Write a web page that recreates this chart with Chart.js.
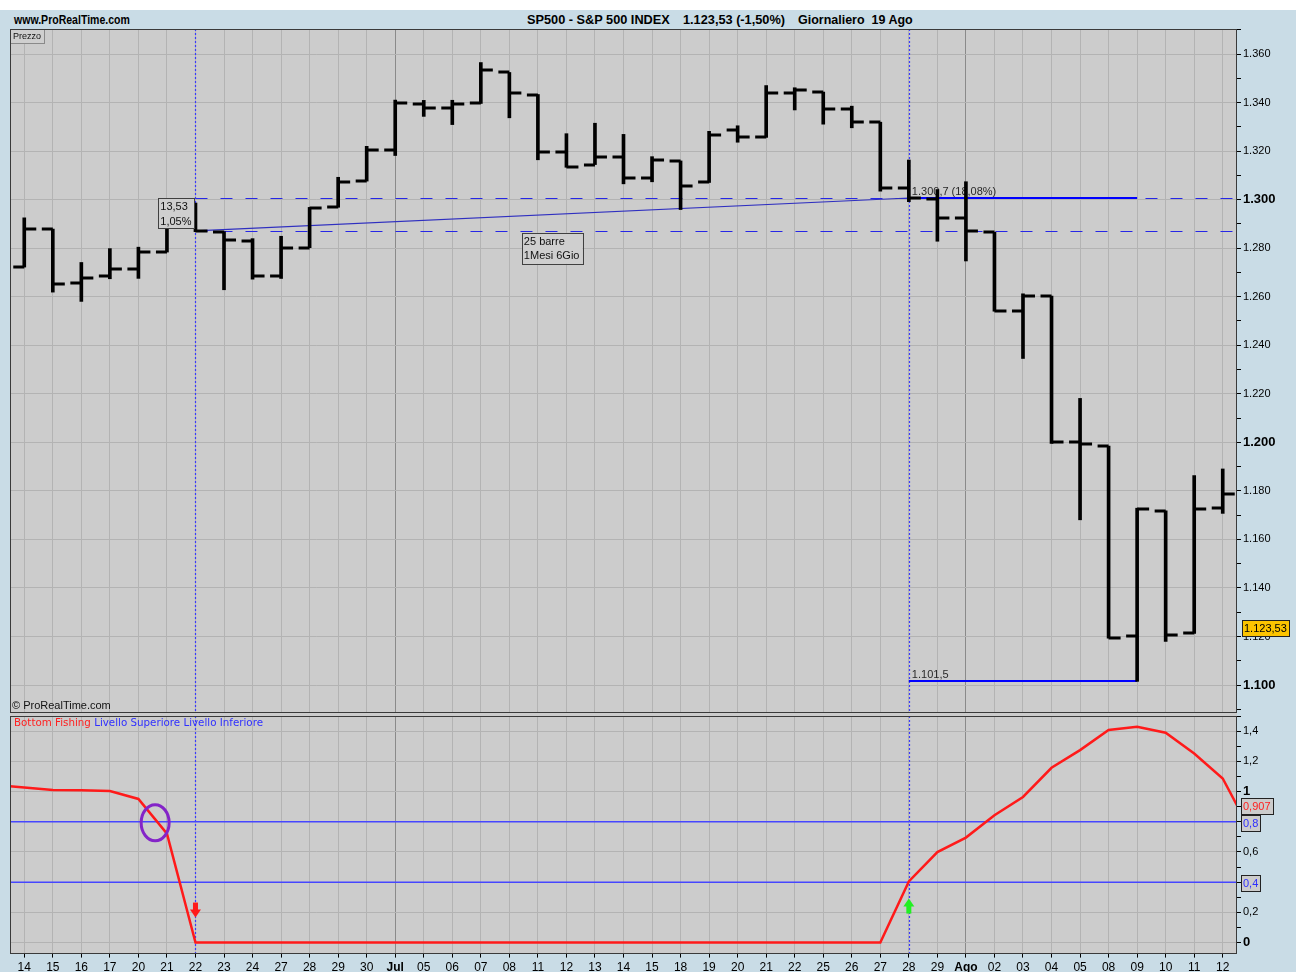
<!DOCTYPE html>
<html lang="it">
<head>
<meta charset="utf-8">
<title>SP500 - S&amp;P 500 INDEX</title>
<script src="https://cdn.jsdelivr.net/npm/chart.js@4.4.1/dist/chart.umd.min.js"></script>
<style>
  html, body { margin: 0; padding: 0; background: #fff; }
  body { position: relative; width: 1296px; height: 972px; overflow: hidden; }
  #frame { position: absolute; left: 0; top: 10px; right: 0; bottom: 0; background: #c9dce6; }
  #gap { position: absolute; left: 10px; top: 713px; width: 1227px; height: 3px; background: #cccccc; }
  .head { position: absolute; top: 11px; font-family: "Liberation Sans", Arial, sans-serif;
          font-weight: bold; font-size: 13px; line-height: 17px; color: #000; white-space: pre;
          transform-origin: 0 0; }
  #brand { left: 14px; transform: scaleX(0.81); }
  #cap1 { left: 527px; transform: scaleX(0.98); }
  #cap2 { left: 683px; transform: scaleX(0.98); }
  #cap3 { left: 798px; transform: scaleX(0.96); }
  .wrap { position: absolute; left: 0; width: 1296px; }
  #priceWrap { top: 0; height: 730px; }
  #bfWrap { top: 706px; height: 272px; }
</style>
</head>
<body>
<div id="frame"></div>
<div id="gap"></div>
<div id="brand" class="head">www.ProRealTime.com</div>
<div id="cap1" class="head">SP500 - S&amp;P 500 INDEX</div>
<div id="cap2" class="head">1.123,53 (-1,50%)</div>
<div id="cap3" class="head">Giornaliero  19 Ago</div>
<div id="priceWrap" class="wrap"><canvas id="priceChart"></canvas></div>
<div id="bfWrap" class="wrap"><canvas id="bfChart"></canvas></div>
<script>
// daily bars 14 Jun - 12 Aug
const dates = ['14','15','16','17','20','21','22','23','24','27','28','29','30',
  'Jul','05','06','07','08','11','12','13','14','15','18','19','20','21','22','25','26','27','28','29',
  'Ago','02','03','04','05','08','09','10','11','12'];

const opens = [1272.22,1287.87,1265.53,1268.58,1271.50,1278.40,1295.48,1286.60,1283.04,1268.44,1280.21,1296.85,1307.64,
  1320.64,1339.59,1337.56,1339.62,1352.39,1343.31,1319.61,1314.45,1317.74,1308.87,1315.94,1307.07,1328.66,1325.65,1343.80,1344.32,1337.39,1331.91,1304.84,1300.12,
  1292.59,1286.56,1254.25,1260.23,1200.28,1198.48,1120.23,1171.77,1121.30,1172.87];
const highs = [1292.50,1287.87,1274.11,1279.82,1280.42,1297.62,1298.61,1286.79,1283.93,1284.91,1296.80,1309.21,1321.97,
  1341.01,1340.89,1340.94,1356.48,1352.39,1343.31,1327.17,1331.48,1326.88,1317.70,1315.94,1328.14,1330.43,1347.00,1346.10,1344.32,1338.51,1331.91,1316.32,1304.16,
  1307.38,1286.58,1261.20,1260.23,1218.11,1198.48,1172.88,1171.77,1186.29,1189.04];
const lows = [1272.22,1261.90,1258.07,1267.40,1267.56,1278.40,1286.79,1262.87,1267.24,1267.53,1280.21,1296.85,1307.64,
  1318.18,1334.30,1330.92,1339.62,1333.71,1316.42,1313.33,1314.45,1306.51,1307.35,1295.92,1307.07,1323.65,1325.65,1336.95,1331.09,1329.59,1303.49,1299.16,1282.86,
  1274.73,1254.03,1234.56,1199.54,1168.09,1119.28,1101.54,1118.01,1121.30,1170.74];
const closes = [1287.87,1265.42,1267.64,1271.50,1278.36,1295.52,1287.14,1283.50,1268.45,1280.10,1296.67,1307.41,1320.64,
  1339.67,1337.88,1339.22,1353.22,1343.80,1319.49,1313.64,1317.72,1308.87,1316.14,1305.44,1326.73,1325.84,1343.80,1345.02,1337.43,1331.94,1304.89,1300.67,1292.28,
  1286.94,1254.05,1260.34,1200.07,1199.38,1119.46,1172.53,1120.76,1172.64,1178.81];

// Bottom Fishing oscillator, one value per bar, plus the bars just outside the window
const bottomFishing = [1.027,1.010,1.009,1.003,0.951,0.721,
  0,0,0,0,0,0,0,0,0,0,0,0,0,0,0,0,0,0,0,0,0,0,0,0,0,
  0.405,0.599,0.695,0.843,0.964,1.157,1.274,1.407,1.429,1.389,1.252,1.086];
const bfBefore = 1.043;
const bfAfter = 0.73;
const bfLast = 0.907;
const levelUpper = 0.8;
const levelLower = 0.4;

const priceTicks = [1100,1120,1140,1160,1180,1200,1220,1240,1260,1280,1300,1320,1340,1360];
const bfTicks = [0,0.2,0.4,0.6,0.8,1,1.2,1.4];
const lastPrice = 1123.53;

// measurement anchors (bar indexes)
const anchorFrom = 6;
const anchorTo = 31;
const swingLow = 39;
const sellSignal = 6;
const buySignal = 31;

const PLOT_BG = '#cccccc';
const GRID = '#b3b3b3';
const MONTH_GRID = '#8a8a8a';
const FRAME = '#3a3a3a';
const AXIS_W = 59;
const FONT = '"Liberation Sans", Arial, sans-serif';

Chart.defaults.font.family = FONT;
Chart.defaults.color = '#000';

function fmtIt(v, dec) {
  const parts = v.toFixed(dec).split('.');
  const int = parts[0].replace(/\B(?=(\d{3})+(?!\d))/g, '.');
  return parts[1] ? int + ',' + parts[1] : int;
}
const isMonth = i => isNaN(Number(dates[i]));
const tickVal = c => (c && c.tick) ? c.tick.value : null;

function xScale(showLabels) {
  return {
    type: 'linear', min: -0.5, max: dates.length - 0.5, offset: false,
    afterBuildTicks: s => { s.ticks = dates.map((_, i) => ({ value: i })); },
    border: { display: false },
    grid: {
      offset: false, lineWidth: 1,
      color: c => { const v = tickVal(c); return v !== null && isMonth(v) ? MONTH_GRID : GRID; },
      drawTicks: showLabels, tickLength: 4, tickColor: '#000'
    },
    ticks: {
      display: showLabels, autoSkip: false, maxRotation: 0, padding: 3, color: '#000',
      callback: v => dates[v],
      font: c => { const v = tickVal(c); return { size: 12, weight: v !== null && isMonth(v) ? 'bold' : 'normal' }; }
    }
  };
}

function boxText(ctx, lines, x, y, w, h, lineGap) {
  ctx.fillStyle = '#cfcfcf';
  ctx.fillRect(x, y, w, h);
  ctx.strokeStyle = '#404040';
  ctx.lineWidth = 1;
  ctx.strokeRect(Math.round(x) + 0.5, Math.round(y) + 0.5, Math.round(w), Math.round(h));
  ctx.fillStyle = '#111';
  ctx.textBaseline = 'alphabetic';
  lines.forEach((t, k) => ctx.fillText(t, x + 2, y + 12 + k * lineGap));
}

function axisBox(ctx, text, x, y, color, bg) {
  ctx.font = '11px ' + FONT;
  const w = Math.round(ctx.measureText(text).width + 4);
  const h = 16;
  const top = Math.round(y - h / 2);
  ctx.fillStyle = bg;
  ctx.fillRect(x, top, w, h);
  ctx.strokeStyle = '#222';
  ctx.lineWidth = 1;
  ctx.strokeRect(x + 0.5, top + 0.5, w, h);
  ctx.fillStyle = color;
  ctx.textBaseline = 'middle';
  ctx.fillText(text, x + 2, top + h / 2 + 1);
}

function vDotted(chart, idx) {
  const { ctx, chartArea: a, scales: { x } } = chart;
  const px = Math.round(x.getPixelForValue(idx)) + 0.5;
  ctx.save();
  ctx.strokeStyle = '#3a3aff';
  ctx.lineWidth = 1.2;
  ctx.setLineDash([2, 2]);
  ctx.beginPath();
  ctx.moveTo(px, a.top);
  ctx.lineTo(px, a.bottom);
  ctx.stroke();
  ctx.restore();
}

const panelFrame = {
  id: 'panelFrame',
  beforeDraw(chart) {
    const { ctx, chartArea: a } = chart;
    ctx.save();
    ctx.fillStyle = PLOT_BG;
    ctx.fillRect(a.left, a.top, a.right - a.left, a.bottom - a.top);
    ctx.restore();
  },
  afterDraw(chart) {
    const { ctx, chartArea: a } = chart;
    ctx.save();
    ctx.strokeStyle = FRAME;
    ctx.lineWidth = 1;
    ctx.strokeRect(Math.round(a.left) + 0.5, Math.round(a.top) + 0.5,
      Math.round(a.right - a.left) - 1, Math.round(a.bottom - a.top) - 1);
    ctx.restore();
  }
};

// price panel: measuring lines, open/close ticks, labels
const priceDecor = {
  id: 'priceDecor',
  beforeDatasetsDraw(chart) {
    const { ctx, chartArea: a, scales: { x, y } } = chart;
    vDotted(chart, anchorFrom);
    vDotted(chart, anchorTo);
    const x0 = x.getPixelForValue(anchorFrom);
    const x1 = x.getPixelForValue(anchorTo);
    const xl = x.getPixelForValue(swingLow);
    const yFrom = y.getPixelForValue(closes[anchorFrom]);
    const yTo = y.getPixelForValue(closes[anchorTo]);
    const yLow = y.getPixelForValue(lows[swingLow]);
    ctx.save();
    ctx.strokeStyle = '#2626e6';
    ctx.lineWidth = 1.2;
    ctx.setLineDash([12, 13]);
    [yFrom, yTo].forEach(py => {
      ctx.beginPath();
      ctx.moveTo(x0, Math.round(py) + 0.5);
      ctx.lineTo(a.right, Math.round(py) + 0.5);
      ctx.stroke();
    });
    ctx.setLineDash([]);
    ctx.strokeStyle = '#2f2fc0';
    ctx.lineWidth = 1.2;
    ctx.beginPath();
    ctx.moveTo(x0, yFrom);
    ctx.lineTo(x1, yTo);
    ctx.stroke();
    ctx.strokeStyle = '#0000ff';
    ctx.lineWidth = 2;
    [yTo, yLow].forEach(py => {
      ctx.beginPath();
      ctx.moveTo(x1, Math.round(py));
      ctx.lineTo(xl, Math.round(py));
      ctx.stroke();
    });
    const swing = (closes[anchorTo] - lows[swingLow]) / lows[swingLow] * 100;
    ctx.font = '11px ' + FONT;
    ctx.fillStyle = '#2a2a2a';
    ctx.textBaseline = 'alphabetic';
    ctx.fillText(fmtIt(closes[anchorTo], 1) + ' (' + fmtIt(swing, 2) + '%)', x1 + 3, yTo - 3);
    ctx.fillText(fmtIt(lows[swingLow], 1), x1 + 3, yLow - 3);
    ctx.restore();
  },
  afterDatasetsDraw(chart) {
    const { ctx, chartArea: a, scales: { x, y } } = chart;
    ctx.save();
    ctx.strokeStyle = '#000';
    ctx.lineWidth = 3;
    ctx.lineCap = 'butt';
    dates.forEach((_, i) => {
      const px = x.getPixelForValue(i);
      const yo = Math.round(y.getPixelForValue(opens[i]));
      const yc = Math.round(y.getPixelForValue(closes[i]));
      ctx.beginPath();
      ctx.moveTo(px - 11, yo);
      ctx.lineTo(px, yo);
      ctx.moveTo(px, yc);
      ctx.lineTo(px + 12, yc);
      ctx.stroke();
    });

    // measurement boxes
    const x0 = x.getPixelForValue(anchorFrom);
    const x1 = x.getPixelForValue(anchorTo);
    const yFrom = y.getPixelForValue(closes[anchorFrom]);
    const yTo = y.getPixelForValue(closes[anchorTo]);
    const diff = closes[anchorTo] - closes[anchorFrom];
    const pct = diff / closes[anchorFrom] * 100;
    ctx.font = '11px ' + FONT;
    const l1 = [fmtIt(diff, 2), fmtIt(pct, 2) + '%'];
    const w1 = Math.max(...l1.map(t => ctx.measureText(t).width)) + 5;
    boxText(ctx, l1, x0 - 1 - w1, yTo, w1, 30, 15);
    const l2 = [(anchorTo - anchorFrom) + ' barre', '1Mesi 6Gio'];
    const w2 = Math.max(...l2.map(t => ctx.measureText(t).width)) + 5;
    boxText(ctx, l2, (x0 + x1) / 2 - w2 / 2, yFrom + 2, w2, 31, 14);

    // panel captions
    ctx.font = '9px ' + FONT;
    ctx.fillStyle = '#cfcfcf';
    ctx.fillRect(a.left, a.top, 34, 14);
    ctx.strokeStyle = '#8a8a8a';
    ctx.lineWidth = 1;
    ctx.strokeRect(a.left + 0.5, a.top + 0.5, 34, 14);
    ctx.fillStyle = '#111';
    ctx.fillText('Prezzo', a.left + 3, a.top + 10);
    ctx.font = '11px ' + FONT;
    ctx.fillText('\u00a9 ProRealTime.com', a.left + 2, a.bottom - 4);
    ctx.restore();
  },
  afterDraw(chart) {
    const { ctx, chartArea: a, scales: { y } } = chart;
    ctx.save();
    axisBox(ctx, fmtIt(lastPrice, 2), a.right + 5, y.getPixelForValue(lastPrice) + 0.5, '#000', '#fcc400');
    ctx.restore();
  }
};

// oscillator panel: signal arrows, crossing mark, legend, value boxes
const bfDecor = {
  id: 'bfDecor',
  beforeDatasetsDraw(chart) {
    vDotted(chart, anchorFrom);
    vDotted(chart, anchorTo);
  },
  afterDatasetsDraw(chart) {
    const { ctx, chartArea: a, scales: { x, y } } = chart;
    const y0 = y.getPixelForValue(0);
    ctx.save();
    // sell arrow
    let cx = x.getPixelForValue(sellSignal);
    let tip = y0 - 25;
    ctx.fillStyle = '#ff1a1a';
    ctx.fillRect(cx - 2.5, tip - 15, 5, 8);
    ctx.beginPath();
    ctx.moveTo(cx - 5.5, tip - 8);
    ctx.lineTo(cx + 5.5, tip - 8);
    ctx.lineTo(cx, tip);
    ctx.closePath();
    ctx.fill();
    // buy arrow
    cx = x.getPixelForValue(buySignal);
    tip = y0 - 44;
    ctx.fillStyle = '#22f022';
    ctx.fillRect(cx - 2.5, tip + 7, 5, 8);
    ctx.beginPath();
    ctx.moveTo(cx - 5.5, tip + 8);
    ctx.lineTo(cx + 5.5, tip + 8);
    ctx.lineTo(cx, tip);
    ctx.closePath();
    ctx.fill();

    // ring where the oscillator drops through the upper level
    let k = 0;
    while (k < bottomFishing.length - 1 && !(bottomFishing[k] >= levelUpper && bottomFishing[k + 1] < levelUpper)) k++;
    const t = (bottomFishing[k] - levelUpper) / (bottomFishing[k] - bottomFishing[k + 1]);
    ctx.strokeStyle = '#8424c8';
    ctx.lineWidth = 3;
    ctx.beginPath();
    ctx.ellipse(x.getPixelForValue(k + t) - 2, y.getPixelForValue(levelUpper) + 1, 14, 18, 0, 0, Math.PI * 2);
    ctx.stroke();

    // legend
    ctx.font = '10.3px "DejaVu Sans", Verdana, sans-serif';
    ctx.textBaseline = 'alphabetic';
    ctx.fillStyle = '#ff2020';
    ctx.fillText('Bottom Fishing', a.left + 4, a.top + 10);
    const w = ctx.measureText('Bottom Fishing ').width;
    ctx.fillStyle = '#2f2fff';
    ctx.fillText('Livello Superiore Livello Inferiore', a.left + 4 + w, a.top + 10);
    ctx.restore();
  },
  afterDraw(chart) {
    const { ctx, chartArea: a, scales: { y } } = chart;
    ctx.save();
    axisBox(ctx, fmtIt(bfLast, 3), a.right + 4, y.getPixelForValue(bfLast), '#ff2020', PLOT_BG);
    axisBox(ctx, fmtIt(levelUpper, 1), a.right + 4, y.getPixelForValue(levelUpper) + 1, '#2f2fff', PLOT_BG);
    axisBox(ctx, fmtIt(levelLower, 1), a.right + 4, y.getPixelForValue(levelLower) + 1, '#2f2fff', PLOT_BG);
    ctx.restore();
  }
};

const common = {
  responsive: true,
  maintainAspectRatio: false,
  animation: false,
  events: [],
  plugins: { legend: { display: false }, tooltip: { enabled: false } }
};

new Chart(document.getElementById('priceChart'), {
  type: 'bar',
  data: {
    datasets: [{
      label: 'SP500',
      data: dates.map((_, i) => ({ x: i, y: [lows[i], highs[i]] })),
      backgroundColor: '#000',
      borderWidth: 0,
      barThickness: 3
    }]
  },
  options: {
    ...common,
    layout: { padding: { left: 10, top: 29, right: 0, bottom: 17 } },
    scales: {
      x: xScale(false),
      y: {
        position: 'right', min: 1088.5, max: 1370.3,
        afterBuildTicks: s => { s.ticks = []; for (let v = 1090; v <= 1370; v += 10) s.ticks.push({ value: v }); },
        afterFit: s => { s.width = AXIS_W; },
        border: { display: false },
        grid: {
          color: c => priceTicks.includes(tickVal(c)) ? GRID : 'transparent',
          tickColor: '#000', tickLength: 4, lineWidth: 1
        },
        ticks: {
          autoSkip: false, padding: 2, color: '#000',
          callback: v => priceTicks.includes(v) ? fmtIt(v, 0) : '',
          font: c => tickVal(c) !== null && tickVal(c) % 100 === 0 ? { size: 13, weight: 'bold' } : { size: 11, weight: 'normal' }
        }
      }
    }
  },
  plugins: [panelFrame, priceDecor]
});

const bfPoints = [{ x: -1, y: bfBefore }]
  .concat(bottomFishing.map((v, i) => ({ x: i, y: v })))
  .concat([{ x: dates.length, y: bfAfter }]);

new Chart(document.getElementById('bfChart'), {
  type: 'line',
  data: {
    datasets: [
      { label: 'Bottom Fishing', data: bfPoints, borderColor: '#ff1a1a', borderWidth: 2.5, pointRadius: 0, tension: 0 },
      { label: 'Livello Superiore', data: [{ x: -1, y: levelUpper }, { x: dates.length, y: levelUpper }], borderColor: '#4646ff', borderWidth: 1.5, pointRadius: 0 },
      { label: 'Livello Inferiore', data: [{ x: -1, y: levelLower }, { x: dates.length, y: levelLower }], borderColor: '#4646ff', borderWidth: 1.5, pointRadius: 0 }
    ]
  },
  options: {
    ...common,
    layout: { padding: { left: 10, top: 10, right: 0, bottom: 0 } },
    scales: {
      x: xScale(true),
      y: {
        position: 'right', min: -0.073, max: 1.5,
        afterBuildTicks: s => { s.ticks = []; for (let k = 0; k <= 15; k++) s.ticks.push({ value: k / 10 }); },
        afterFit: s => { s.width = AXIS_W; },
        border: { display: false },
        grid: {
          color: c => bfTicks.includes(tickVal(c)) ? GRID : 'transparent',
          tickColor: '#000', tickLength: 4, lineWidth: 1
        },
        ticks: {
          autoSkip: false, padding: 2, color: '#000',
          callback: v => bfTicks.includes(v) ? String(v).replace('.', ',') : '',
          font: c => (tickVal(c) === 0 || tickVal(c) === 1) ? { size: 13, weight: 'bold' } : { size: 11, weight: 'normal' }
        }
      }
    }
  },
  plugins: [panelFrame, bfDecor]
});
</script>
</body>
</html>
